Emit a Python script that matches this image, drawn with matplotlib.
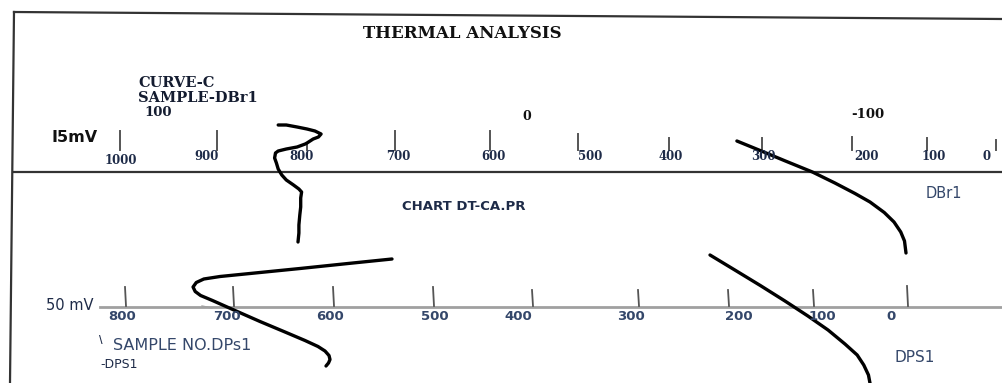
import numpy as np
import matplotlib
matplotlib.use("Agg")
import matplotlib.pyplot as plt

# ---------------- data ----------------
top_scale_labels = [1000, 900, 800, 700, 600, 500, 400, 300, 200, 100, 0]
bottom_scale_labels = [800, 700, 600, 500, 400, 300, 200, 100, 0]

# DBr1 traces: temperature on the top scale (deg C) and chart deflection (chart units)
dbr1_a_temp = [832, 823, 811, 800, 791, 784, 787, 793, 800, 802, 811, 823, 832, 835,
               836, 834, 832, 828, 823, 815, 809, 806, 807, 807, 808, 809, 809, 810]
dbr1_a_defl = [125, 125, 127, 129, 131, 134, 137, 139, 143, 144, 147, 149, 151, 153,
               158, 163, 169, 175, 180, 185, 189, 192, 198, 207, 215, 225, 233, 242]
dbr1_b_temp = [327, 302, 274, 244, 219, 196, 176, 157, 144, 135, 130, 128]
dbr1_b_defl = [141, 150.5, 161, 172, 183, 193.5, 202, 212.5, 222, 232, 241, 253]

# DPS1 traces: temperature on the bottom scale (deg C) and chart deflection
dps1_a_temp = [541, 583, 633, 683, 712, 727, 734, 737, 735, 730, 719, 698, 673,
               648, 628, 615, 608, 604, 603, 604.5, 607]
dps1_a_defl = [259, 263.3, 268.5, 273.5, 276.5, 279, 282.5, 287, 291.5, 295.5, 300.5,
               310.5, 321.5, 332, 340.5, 346.5, 351, 355.5, 359.5, 363, 366]
dps1_b_temp = [220, 192, 162, 133, 106, 84, 66, 53, 46, 41, 39]
dps1_b_defl = [255, 270, 285.5, 301, 316, 330, 344, 355, 365, 375, 385]

# ---------------- layout ----------------
top_tick_pos = [120, 217, 307, 395, 490, 578, 669, 762, 852, 927, 996]
top_tick_y0 = [131, 131, 143, 131, 131, 134, 138, 138, 137, 138, 140]
top_label_pos = [121, 207, 302, 398, 493, 590, 671, 763, 867, 934, 987]
top_label_y = [161, 157, 157, 157, 157, 157, 157, 157, 157, 157, 157]

bot_tick_pos = [125, 233, 333, 433, 532, 638, 728, 813, 907]
bot_tick_y0 = [287, 287, 287, 287, 290, 290, 290, 290, 286]
bot_label_pos = [122, 227, 330, 435, 518, 631, 739, 822, 891]

W, H = 1002, 383
fig = plt.figure(figsize=(W / 100, H / 100), dpi=100)
ax = fig.add_axes([0, 0, 1, 1])
ax.set_xlim(0, W)
ax.set_ylim(H, 0)
ax.axis("off")

navy = "#1e2b48"
blue_gray = "#34476a"

# frame
ax.plot([14, 1002], [12, 19], color="#333333", lw=1.6)
ax.plot([14, 10], [12, 383], color="#333333", lw=1.6)
ax.plot([14, 1002], [172, 172], color="#333333", lw=1.6)

# top scale ticks
for x, y0 in zip(top_tick_pos, top_tick_y0):
    ax.plot([x, x], [y0, 150], color="#555555", lw=1.4)
for lab, x, y in zip(top_scale_labels, top_label_pos, top_label_y):
    ax.text(x, y, str(lab), ha="center", va="center", fontsize=8.5,
            fontweight="bold", color=navy, family="DejaVu Serif")

# bottom scale
ax.plot([100, 1002], [307, 307], color="#a0a0a0", lw=2.0)
ax.plot([202, 212], [306, 308], color="#a0a0a0", lw=1.0)
for x, y0 in zip(bot_tick_pos, bot_tick_y0):
    ax.plot([x, x + 1], [y0, 306], color="#555555", lw=1.3)
for lab, x in zip(bottom_scale_labels, bot_label_pos):
    ax.text(x, 316, str(lab), ha="center", va="center", fontsize=9.5,
            color=blue_gray, family="DejaVu Sans", fontweight="bold")

# texts
ax.text(462, 33, "THERMAL ANALYSIS", ha="center", va="center", fontsize=12,
        fontweight="bold", family="DejaVu Serif", color="#111111")
ax.text(138, 83, "CURVE-C", ha="left", va="center", fontsize=10.5,
        fontweight="bold", family="DejaVu Serif", color="#141c30")
ax.text(138, 98, "SAMPLE-DBr1", ha="left", va="center", fontsize=10.5,
        fontweight="bold", family="DejaVu Serif", color="#141c30")
ax.text(144, 112, "100", ha="left", va="center", fontsize=9.5,
        fontweight="bold", family="DejaVu Serif", color="#141c30")
ax.text(52, 137, "I5mV", ha="left", va="center", fontsize=11.5,
        fontweight="bold", family="DejaVu Sans", color="#111111")
ax.text(527, 116, "0", ha="center", va="center", fontsize=9,
        fontweight="bold", family="DejaVu Serif", color="#111111")
ax.text(868, 114, "-100", ha="center", va="center", fontsize=9.5,
        fontweight="bold", family="DejaVu Serif", color="#111111")
ax.text(464, 207, "CHART DT-CA.PR", ha="center", va="center", fontsize=9.5,
        fontweight="bold", family="DejaVu Sans", color=navy)
ax.text(944, 194, "DBr1", ha="center", va="center", fontsize=10.5,
        family="DejaVu Sans", color=blue_gray)
ax.text(46, 306, "50 mV", ha="left", va="center", fontsize=10.5,
        family="DejaVu Sans", color=navy)
ax.text(101, 340, "\\", ha="center", va="center", fontsize=7,
        fontweight="bold", color=navy)
ax.text(113, 346, "SAMPLE NO.DPs1", ha="left", va="center", fontsize=11.5,
        family="DejaVu Sans", color=blue_gray)
ax.text(100, 365, "-DPS1", ha="left", va="center", fontsize=9,
        family="DejaVu Sans", color=navy)
ax.text(915, 358, "DPS1", ha="center", va="center", fontsize=11,
        family="DejaVu Sans", color=blue_gray)

# temperature -> chart position via each printed scale
top_t = np.array(top_scale_labels[::-1], dtype=float)
top_p = np.array(top_tick_pos[::-1], dtype=float)
bot_t = np.array(bottom_scale_labels[::-1], dtype=float)
bot_p = np.array(bot_tick_pos[::-1], dtype=float)


def top_x(t):
    return np.interp(np.asarray(t, float), top_t, top_p)


def bot_x(t):
    return np.interp(np.asarray(t, float), bot_t, bot_p)


lw = 2.4
style = dict(color="black", lw=lw, solid_capstyle="round", solid_joinstyle="round")
ax.plot(top_x(dbr1_a_temp), dbr1_a_defl, **style)
ax.plot(top_x(dbr1_b_temp), dbr1_b_defl, **style)
ax.plot(bot_x(dps1_a_temp), dps1_a_defl, **style)
ax.plot(bot_x(dps1_b_temp), dps1_b_defl, **style)

fig.savefig("out.png", dpi=100)
